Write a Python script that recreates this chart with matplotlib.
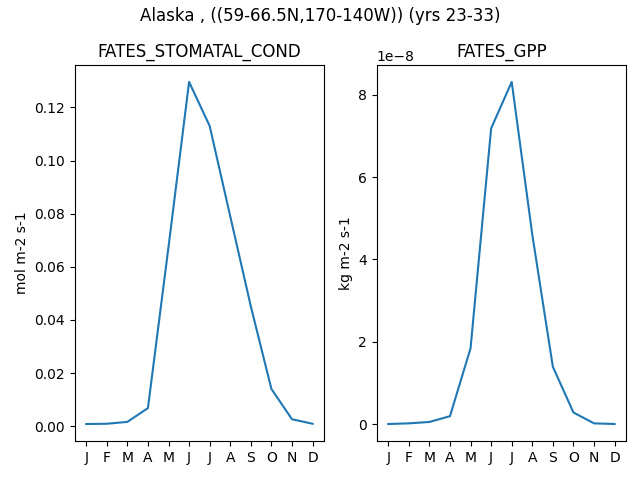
import matplotlib
matplotlib.use('Agg')
import matplotlib.pyplot as plt
import numpy as np

months = ['J', 'F', 'M', 'A', 'M', 'J', 'J', 'A', 'S', 'O', 'N', 'D']
stomatal_cond = [0.0008, 0.0009, 0.0016, 0.0068, 0.0675, 0.1296, 0.1130, 0.0790, 0.0451, 0.0140, 0.0026, 0.0009]
gpp = [0.0, 0.016e-8, 0.05e-8, 0.19e-8, 1.84e-8, 7.18e-8, 8.31e-8, 4.6e-8, 1.39e-8, 0.28e-8, 0.016e-8, 0.0]

x = np.arange(len(months))
fig, axs = plt.subplots(1, 2, figsize=(6.4, 4.8), dpi=100)
axs[0].plot(x, stomatal_cond)
axs[0].set_title('FATES_STOMATAL_COND')
axs[0].set_ylabel('mol m-2 s-1')
axs[1].plot(x, gpp)
axs[1].set_title('FATES_GPP')
axs[1].set_ylabel('kg m-2 s-1')
for ax in axs:
	ax.set_xticks(x)
	ax.set_xticklabels(months)
fig.suptitle('Alaska , ((59-66.5N,170-140W)) (yrs 23-33)', y=0.985)
fig.subplots_adjust(left=0.117, right=0.978, bottom=0.081, top=0.865, wspace=0.213)
fig.savefig('out.png')
plt.close()
